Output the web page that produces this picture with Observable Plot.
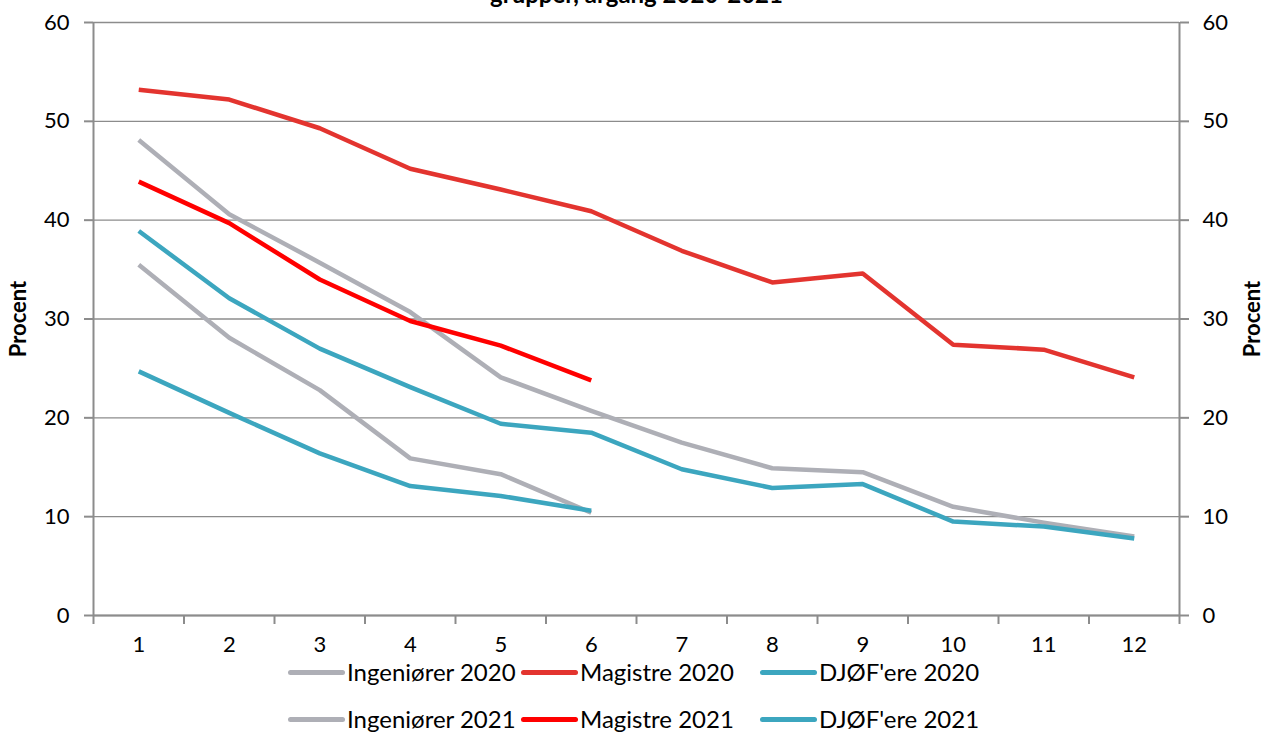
<!DOCTYPE html>
<html>
<head>
<meta charset="utf-8">
<script src="https://cdn.jsdelivr.net/npm/d3@7"></script>
<script src="https://cdn.jsdelivr.net/npm/@observablehq/plot@0.6"></script>
<style>
  body { margin: 0; background: white; font-family: Lato, "Open Sans", sans-serif; }
  #wrap { position: relative; width: 1265px; height: 733px; overflow: hidden; }
  .leg { position: absolute; display: flex; align-items: center; font-size: 24px; line-height: 22px; color: #000; white-space: nowrap; }
  .sw { width: 57px; height: 5px; border-radius: 3px; margin-right: 2px; }
</style>
</head>
<body>
<div id="wrap"></div>
<script>
const months = [1,2,3,4,5,6,7,8,9,10,11,12];
const seriesNames = ["Ingeniører 2020","Magistre 2020","DJØF'ere 2020","Ingeniører 2021","Magistre 2021","DJØF'ere 2021"];
const seriesColors = ["#AEAFB6","#E3342F","#3CA6BF","#AEAFB6","#FF0000","#3CA6BF"];
const ing2020 = [48.1,40.6,35.7,30.7,24.1,20.7,17.5,14.9,14.5,11.0,9.4,8.0];
const mag2020 = [53.2,52.2,49.3,45.2,43.1,40.9,36.9,33.7,34.6,27.4,26.9,24.1];
const djof2020 = [38.9,32.1,27.0,23.1,19.4,18.5,14.8,12.9,13.3,9.5,9.0,7.8];
const ing2021 = [35.5,28.1,22.8,15.9,14.3,10.4];
const mag2021 = [43.9,39.7,34.0,29.8,27.3,23.8];
const djof2021 = [24.7,20.5,16.4,13.1,12.1,10.6];
const yTicks = [0,10,20,30,40,50,60];
const titleText = "grupper, årgang 2020-2021";
const yLabel = "Procent";

const allSeries = [ing2020, mag2020, djof2020, ing2021, mag2021, djof2021];
const rows = [];
allSeries.forEach((vals, i) => vals.forEach((v, j) => rows.push({series: seriesNames[i], month: months[j], value: v})));
const boundaries = d3.range(0.5, 13, 1);

const font = "Lato, 'Open Sans', sans-serif";
const axisColor = "#8C8C8C";

const chart = Plot.plot({
  width: 1265,
  height: 658,
  marginLeft: 93,
  marginRight: 86,
  marginTop: 22,
  marginBottom: 43,
  style: {fontFamily: font, fontSize: "22px", background: "white", overflow: "visible"},
  x: {type: "linear", domain: [0.5, 12.5]},
  y: {domain: [0, 60]},
  color: {domain: seriesNames, range: seriesColors},
  marks: [
    Plot.gridY(yTicks, {stroke: axisColor, strokeOpacity: 1, strokeWidth: 1.3}),
    Plot.ruleX([0.5, 12.5], {stroke: axisColor, strokeWidth: 2}),
    Plot.ruleY([0], {stroke: axisColor, strokeWidth: 2}),
    Plot.axisY(yTicks, {anchor: "left", tickSize: 9, tickPadding: 15, stroke: axisColor, strokeWidth: 2, fill: "#000", fontSize: 22, label: null}),
    Plot.axisY(yTicks, {anchor: "right", tickSize: 9, tickPadding: 14, stroke: axisColor, strokeWidth: 2, fill: "#000", fontSize: 22, label: null}),
    Plot.axisX(boundaries, {anchor: "bottom", tickSize: 9, stroke: axisColor, strokeWidth: 2, tickFormat: () => "", label: null}),
    Plot.axisX(months, {anchor: "bottom", tickSize: 0, tickPadding: 21, fill: "#000", fontSize: 22, label: null}),
    Plot.line(rows, {x: "month", y: "value", z: "series", stroke: "series", strokeWidth: 4.5, strokeLinejoin: "round", strokeLinecap: "butt"}),
    Plot.text([yLabel], {frameAnchor: "left", dx: -75, rotate: -90, text: d => d, fontWeight: "bold", fontSize: 22, fill: "#000", textAnchor: "middle"}),
    Plot.text([yLabel], {frameAnchor: "right", dx: 73, rotate: -90, text: d => d, fontWeight: "bold", fontSize: 22, fill: "#000", textAnchor: "middle"}),
    Plot.text([titleText], {frameAnchor: "top", dx: 0, dy: -20, text: d => d, fontWeight: "bold", fontSize: 24, fill: "#000", lineAnchor: "bottom"})
  ]
});
const wrap = document.getElementById("wrap");
wrap.appendChild(chart);

const legendPos = [[288, 672],[521, 672],[760, 672],[288, 719],[521, 719],[760, 719]];
seriesNames.forEach((name, i) => {
  const d = document.createElement("div");
  d.className = "leg";
  d.style.left = legendPos[i][0] + "px";
  d.style.top = (legendPos[i][1] - 11) + "px";
  d.style.height = "22px";
  const sw = document.createElement("div");
  sw.className = "sw";
  sw.style.background = seriesColors[i];
  d.appendChild(sw);
  const t = document.createElement("span");
  t.textContent = name;
  d.appendChild(t);
  wrap.appendChild(d);
});
</script>
</body>
</html>
